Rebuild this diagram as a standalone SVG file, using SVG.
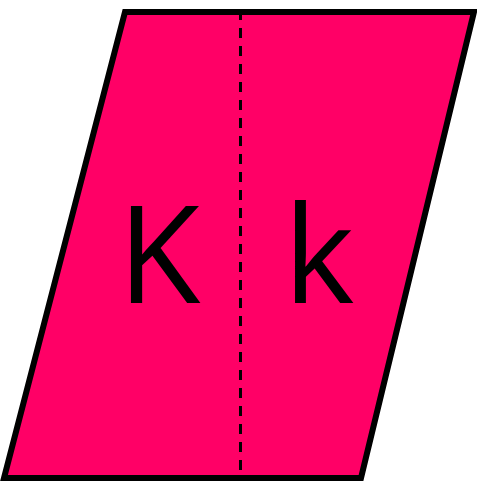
<svg xmlns="http://www.w3.org/2000/svg" width="477" height="481" viewBox="0 0 477 481">
<style>
.shape{fill:#ff0066;stroke:#000;stroke-width:6;stroke-linejoin:miter}
.fold{stroke:#000;stroke-width:3;stroke-dasharray:10 8;fill:none}
.lbl{font-family:"Open Sans",Roboto,"Liberation Sans",sans-serif;font-size:135px;fill:#000;text-anchor:middle}
</style>
<g id="sheet">
<polygon class="shape" points="125,12 474,12 361,478 4,478"/>
</g>
<g id="connectors">
<line class="fold" x1="240.5" y1="10" x2="240.5" y2="478"/>
</g>
<g id="left-face"><text class="lbl" x="159" y="303">K</text></g>
<g id="right-face"><text class="lbl" x="319" y="303">k</text></g>
</svg>
